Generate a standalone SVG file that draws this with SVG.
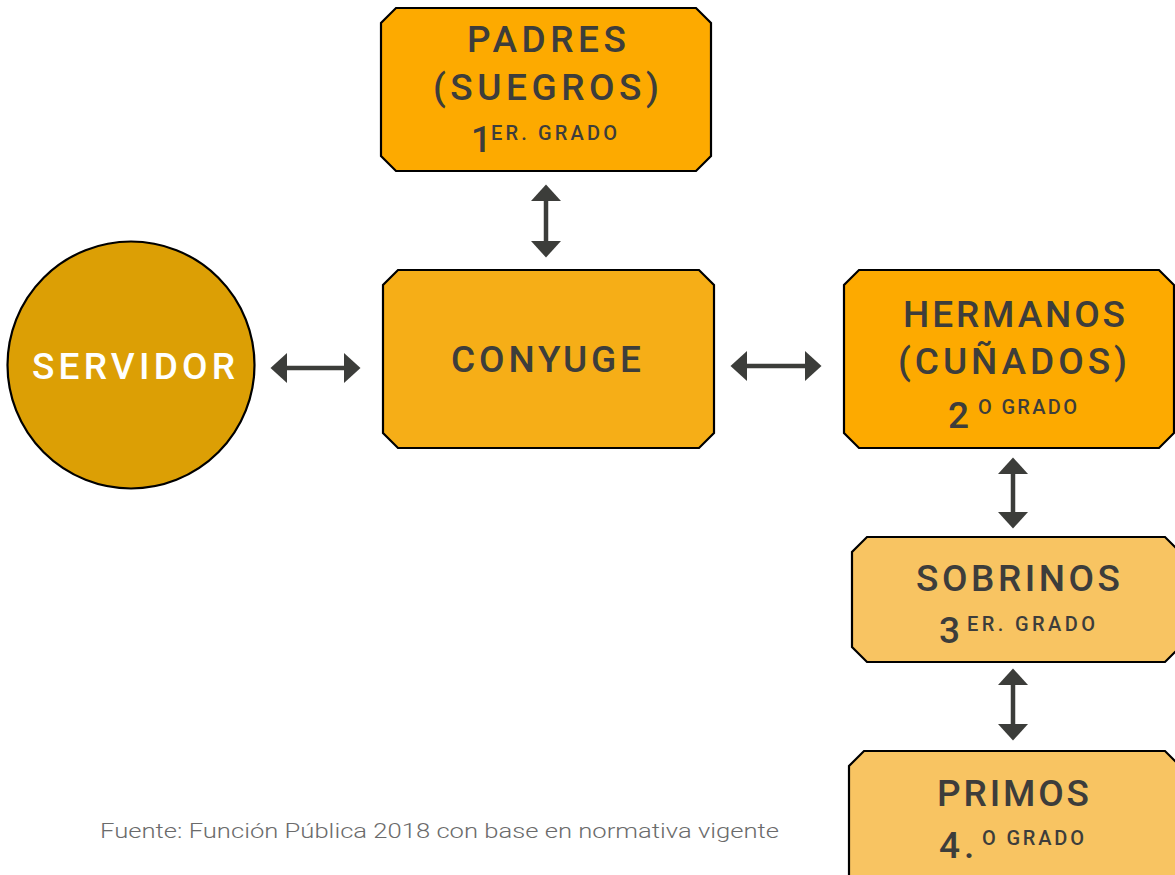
<svg xmlns="http://www.w3.org/2000/svg" width="1175" height="875" viewBox="0 0 1175 875">
<style>
.box{stroke:#000;stroke-width:2.2;stroke-linejoin:miter}
.t{font-family:Roboto,"Liberation Sans",sans-serif;font-weight:500;fill:#3d3d3b}
.big{font-size:37px}
.sm{font-size:20px;font-weight:500}
.conn{stroke:#3c3d3a;stroke-width:4.5;fill:none;marker-start:url(#head);marker-end:url(#head)}
</style>
<defs>
<marker id="head" markerUnits="userSpaceOnUse" viewBox="0 -16 17 32" refX="0" refY="0" markerWidth="17" markerHeight="32" orient="auto-start-reverse" overflow="visible">
<path d="M0,-15 L16.5,0 L0,15 Z" fill="#3c3d3a"/>
</marker>
</defs>
<rect width="1175" height="875" fill="#fff"/>
<g id="connectors">
<line class="conn" x1="287" y1="368" x2="344" y2="368"/>
<line class="conn" x1="747" y1="366" x2="805" y2="366"/>
<line class="conn" x1="546" y1="201" x2="546" y2="241"/>
<line class="conn" x1="1013" y1="474" x2="1013" y2="512"/>
<line class="conn" x1="1013" y1="685" x2="1013" y2="724"/>
</g>
<g id="servidor">
<circle cx="131" cy="365" r="123.5" fill="#dc9f05" stroke="#000" stroke-width="2.2"/>
<text class="t big" x="32" y="379" textLength="203" lengthAdjust="spacing" style="fill:#fff">SERVIDOR</text>
</g>
<g id="padres">
<polygon class="box" fill="#fdaa00" points="396,8 696,8 711,23 711,156 696,171 396,171 381,156 381,23"/>
<text class="t big" x="467" y="52" textLength="159" lengthAdjust="spacing">PADRES</text>
<text class="t big" x="433" y="100" textLength="226" lengthAdjust="spacing">(SUEGROS)</text>
<text class="t big" x="471" y="152" style="font-size:36px">1</text>
<text class="t sm" x="491" y="140" textLength="126" lengthAdjust="spacing">ER. GRADO</text>
</g>
<g id="conyuge">
<polygon class="box" fill="#f6ae17" points="398,270 699,270 714,285 714,433 699,448 398,448 383,433 383,285"/>
<text class="t big" x="451" y="372" textLength="190" lengthAdjust="spacing">CONYUGE</text>
</g>
<g id="hermanos">
<polygon class="box" fill="#fdaa00" points="859,270 1159,270 1174,285 1174,433 1159,448 859,448 844,433 844,285"/>
<text class="t big" x="903" y="327" textLength="222" lengthAdjust="spacing">HERMANOS</text>
<text class="t big" x="898" y="374" textLength="229" lengthAdjust="spacing">(CUÑADOS)</text>
<text class="t big" x="948" y="428">2</text>
<text class="t sm" x="978" y="414" textLength="99" lengthAdjust="spacing">O GRADO</text>
</g>
<g id="sobrinos">
<polygon class="box" fill="#f8c462" points="867,537 1165,537 1180,552 1180,647 1165,662 867,662 852,647 852,552"/>
<text class="t big" x="916" y="591" textLength="204" lengthAdjust="spacing">SOBRINOS</text>
<text class="t big" x="939" y="643">3</text>
<text class="t sm" x="967" y="631" textLength="128" lengthAdjust="spacing">ER. GRADO</text>
</g>
<g id="primos">
<polygon class="box" fill="#f8c462" points="864,751 1165,751 1180,766 1180,890 849,890 849,766"/>
<text class="t big" x="937" y="806" textLength="152" lengthAdjust="spacing">PRIMOS</text>
<text class="t big" x="939" y="858">4</text>
<text class="t big" x="964" y="858">.</text>
<text class="t sm" x="982" y="845" textLength="102" lengthAdjust="spacing">O GRADO</text>
</g>
<g id="footer">
<text x="100" y="838" textLength="679" lengthAdjust="spacingAndGlyphs" style="font-family:Roboto,'Liberation Sans',sans-serif;font-weight:300;font-size:20px;fill:#6b6b6b">Fuente: Función Pública 2018 con base en normativa vigente</text>
</g>
</svg>
